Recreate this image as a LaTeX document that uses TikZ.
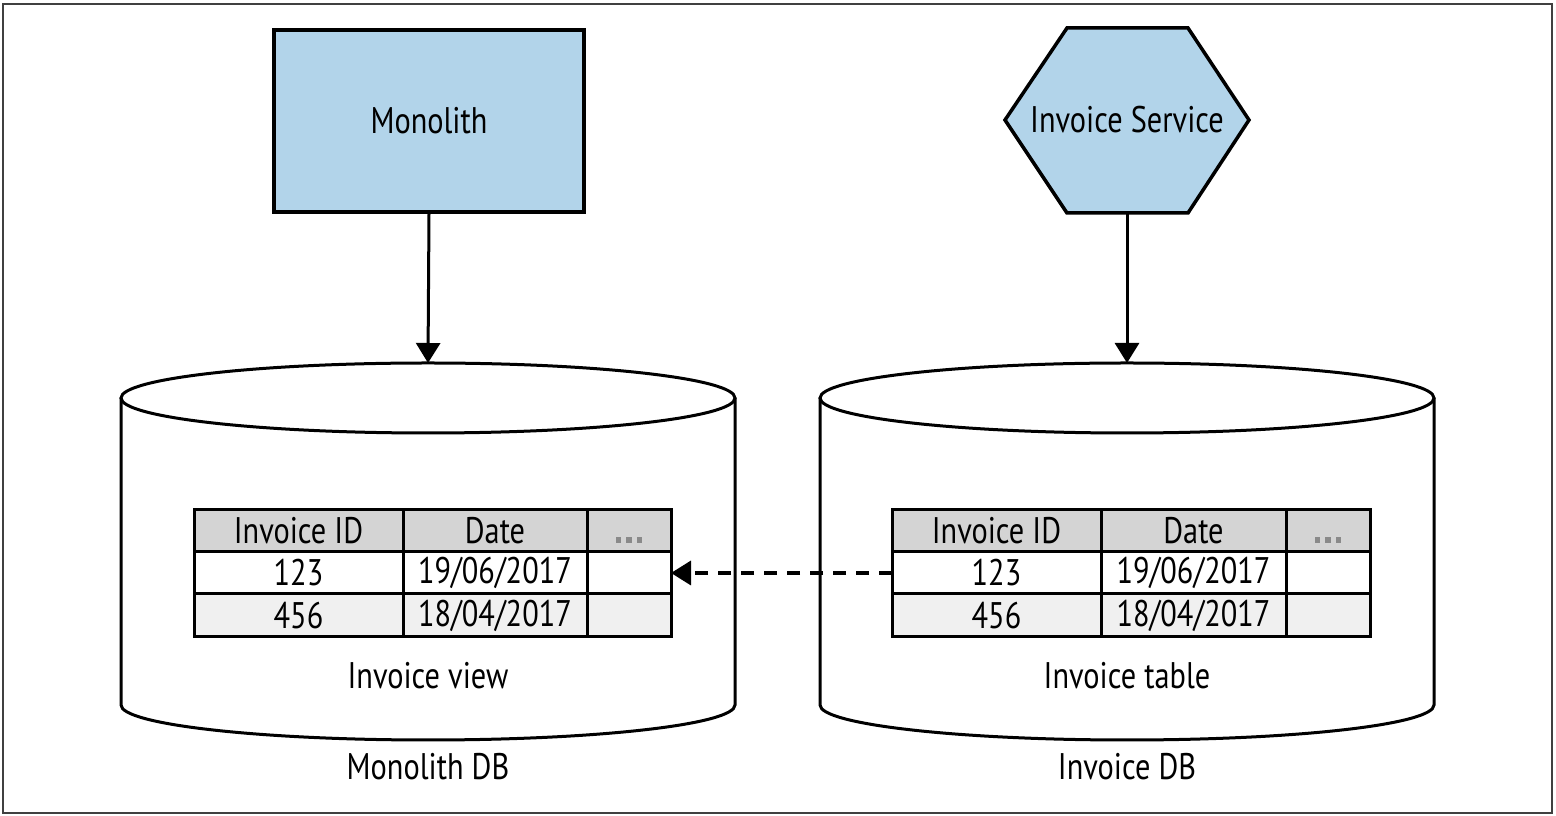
\documentclass[tikz,border=0pt]{standalone}
\usepackage{fontspec}
\setmainfont{PT Sans}[FakeStretch=0.82]
\usetikzlibrary{arrows.meta}
\definecolor{svcblue}{HTML}{B2D4EA}
\definecolor{hdrgray}{HTML}{D4D4D4}
\definecolor{rowgray}{HTML}{F0F0F0}
\definecolor{dotgray}{HTML}{8A8A8A}
\tikzset{
  x=1pt, y=1pt,
  lbl/.style={inner sep=0pt, font=\fontsize{37}{39}\selectfont},
  cell/.style={inner sep=0pt, font=\fontsize{37}{39}\selectfont},
  shapeline/.style={line width=3.5pt, line join=miter},
  dbline/.style={line width=3pt},
  tabline/.style={line width=3pt},
  arr/.style={line width=3pt, -{Triangle[length=20pt,width=24pt]}},
  darr/.style={line width=3.5pt, dash pattern=on 13pt off 10pt, -{Triangle[length=20pt,width=24pt]}},
}
\newcommand{\ellip}{\textcolor{dotgray}{\rule{5.5pt}{5.5pt}\hspace{5pt}\rule{5.5pt}{5.5pt}\hspace{5pt}\rule{5.5pt}{5.5pt}}}
\begin{document}
\begin{tikzpicture}
% frame
\draw[line width=2pt, draw=black!75, fill=white] (3,3) rectangle (1552,812);
\useasboundingbox (0,0) rectangle (1556,816);

% Monolith
\node[draw, shapeline, fill=svcblue, minimum width=310pt, minimum height=182pt, lbl] (mono) at (429,695) {Monolith};

% Invoice service hexagon
\filldraw[shapeline, fill=svcblue] (1005,696) -- (1067,788) -- (1188,788) -- (1249,696) -- (1188,603) -- (1067,603) -- cycle;
\node[lbl] (svc) at (1127,696) {Invoice Service};
\coordinate (svcb) at (1127,603);

% cylinder tops
\coordinate (mdbtop) at (428,453);
\coordinate (idbtop) at (1127,453);

% left table
\fill[hdrgray] (194,264) rectangle (671,306);
\fill[white] (194,222) rectangle (671,264);
\fill[rowgray] (194,179) rectangle (671,222);
\draw[tabline] (194,179) rectangle (671,306);
\draw[tabline] (194,264) -- (671,264) (194,222) -- (671,222) (403,179) -- (403,306) (587,179) -- (587,306);
\node[cell] (lh1) at (298.5,285) {Invoice ID};
\node[cell] (lh2) at (495,285) {Date};
\node[inner sep=0pt] (lh3) at (629,276) {\ellip};
\node[cell] (l11) at (298.5,243) {123};
\node[cell] (l12) at (495,243) {19/06/2017};
\node[cell] (l21) at (298.5,200.5) {456};
\node[cell] (l22) at (495,200.5) {18/04/2017};
\coordinate (ltab) at (671,243);

% right table
\fill[hdrgray] (892,264) rectangle (1370,306);
\fill[white] (892,222) rectangle (1370,264);
\fill[rowgray] (892,179) rectangle (1370,222);
\draw[tabline] (892,179) rectangle (1370,306);
\draw[tabline] (892,264) -- (1370,264) (892,222) -- (1370,222) (1101,179) -- (1101,306) (1286,179) -- (1286,306);
\node[cell] (rh1) at (996.5,285) {Invoice ID};
\node[cell] (rh2) at (1193.5,285) {Date};
\node[inner sep=0pt] (rh3) at (1328,276) {\ellip};
\node[cell] (r11) at (996.5,243) {123};
\node[cell] (r12) at (1193.5,243) {19/06/2017};
\node[cell] (r21) at (996.5,200.5) {456};
\node[cell] (r22) at (1193.5,200.5) {18/04/2017};
\coordinate (rtab) at (892,243);

% dashed arrow
\draw[darr] (rtab) -- (ltab);

% cylinders
\draw[dbline] (428,418) ellipse [x radius=307, y radius=35];
\draw[dbline] (121,418) -- (121,111) arc[start angle=180, end angle=360, x radius=307, y radius=35] -- (735,418);
\draw[dbline] (1127,418) ellipse [x radius=307, y radius=35];
\draw[dbline] (820,418) -- (820,111) arc[start angle=180, end angle=360, x radius=307, y radius=35] -- (1434,418);

\node[lbl] (lview) at (428,140) {Invoice view};
\node[lbl] (ltable) at (1127,140) {Invoice table};
\node[lbl] (mdb) at (428,49) {Monolith DB};
\node[lbl] (idb) at (1127,49) {Invoice DB};

% arrows
\draw[arr] (mono.south) -- (mdbtop);
\draw[arr] (svcb) -- (idbtop);
\end{tikzpicture}
\end{document}
